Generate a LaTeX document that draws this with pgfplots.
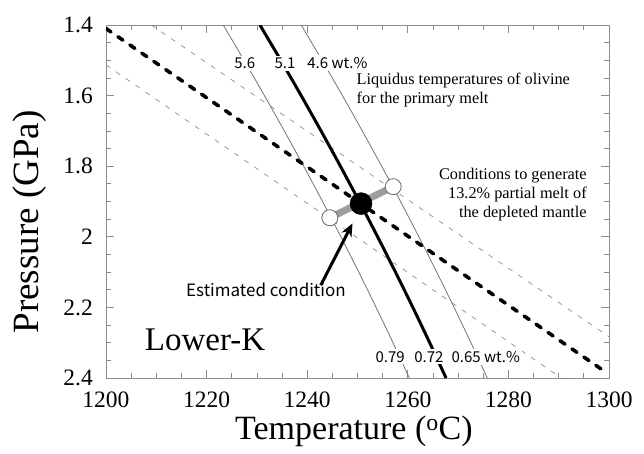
\documentclass[border=0pt]{standalone}
\usepackage{pgfplots}
\pgfplotsset{compat=1.18}
\usetikzlibrary{arrows.meta}
\usepackage{fontspec}
\setmainfont{Liberation Serif}
\newfontfamily\gothic{Noto Sans CJK JP}

\definecolor{framegray}{gray}{0.55}
\definecolor{thingray}{gray}{0.45}
\definecolor{dashgray}{gray}{0.55}
\definecolor{bargray}{gray}{0.62}

\begin{document}
\begin{tikzpicture}
\useasboundingbox (0,0) rectangle (644pt,453pt);
\begin{axis}[
  at={(106pt,75pt)}, anchor=south west,
  scale only axis, width=503pt, height=353pt,
  xmin=1200, xmax=1300, ymin=1.4, ymax=2.4,
  y dir=reverse,
  xtick={1200,1220,1240,1260,1280,1300},
  xticklabels={1200,1220,1240,1260,1280,1300},
  ytick={1.4,1.6,1.8,2.0,2.2,2.4},
  yticklabels={1.4,1.6,1.8,2,2.2,2.4},
  minor x tick num=3, minor y tick num=3,
  tick align=inside,
  major tick length=8pt, minor tick length=5pt,
  axis line style={framegray, line width=0.9pt},
  every tick/.style={framegray, line width=0.8pt},
  /pgf/number format/assume math mode=true,
  tick label style={font=\fontsize{23.5}{26}\selectfont, inner sep=0pt},
  xticklabel style={yshift=-14pt},
  yticklabel style={xshift=-13pt},
  xlabel={Temperature (\textsuperscript{o}C)},
  ylabel={Pressure (GPa)},
  label style={font=\fontsize{34}{38}\selectfont},
  xlabel style={at={(axis description cs:0.493,-0.152)}, anchor=center, inner ysep=0pt},
  ylabel style={at={(axis description cs:-0.151,0.442)}, anchor=center, font=\fontsize{37}{40}\selectfont},
  clip=true,
]
% melting-degree bounds (13.2% melt of the depleted mantle)
\addplot[dashgray, line width=0.7pt, dash pattern=on 5pt off 7pt]
  coordinates {(1209,1.4) (1300,2.283)};
\addplot[dashgray, line width=0.7pt, dash pattern=on 5pt off 7pt]
  coordinates {(1200,1.513) (1290.5,2.4)};

% olivine liquidus for 5.6 and 4.6 wt.% (thin) and 5.1 wt.% (thick)
\addplot[thingray, line width=0.8pt, smooth] coordinates {
  (1223.3,1.4) (1227.45,1.5) (1231.5,1.6) (1235.45,1.7) (1239.3,1.8)
  (1243.05,1.9) (1246.7,2.0) (1250.25,2.1) (1253.7,2.2) (1257.05,2.3) (1260.3,2.4)};
\addplot[thingray, line width=0.8pt, smooth] coordinates {
  (1238.8,1.4) (1242.95,1.5) (1247.0,1.6) (1250.95,1.7) (1254.8,1.8)
  (1258.55,1.9) (1262.2,2.0) (1265.75,2.1) (1269.2,2.2) (1272.55,2.3) (1275.8,2.4)};
\addplot[black, line width=3pt, smooth] coordinates {
  (1230.6,1.4) (1234.75,1.5) (1238.8,1.6) (1242.75,1.7) (1246.6,1.8)
  (1250.35,1.9) (1254.0,2.0) (1257.55,2.1) (1261.0,2.2) (1264.35,2.3) (1267.6,2.4)};

% 13.2% partial melt condition
\addplot[black, line width=3.6pt, line cap=round, dash pattern=on 6pt off 8.5pt]
  coordinates {(1200,1.41) (1298.8,2.378)};

% water content labels
\begin{scope}[every node/.style={fill=white, inner sep=2pt, font=\gothic\fontsize{15}{17}\selectfont}]
\node at (axis cs:1227.6,1.508) {5.6};
\node at (axis cs:1235.6,1.508) {5.1};
\node at (axis cs:1246.0,1.508) {4.6 wt.\%};
\node at (axis cs:1256.5,2.34) {0.79};
\node at (axis cs:1264.2,2.34) {0.72};
\node at (axis cs:1275.5,2.34) {0.65 wt.\%};
\end{scope}

% uncertainty range and estimated condition
\addplot[bargray, line width=7pt] coordinates {(1244.5,1.946) (1257.1,1.858)};
\addplot[only marks, mark=*, mark size=8pt, mark options={fill=white, draw=black!60, line width=0.8pt}]
  coordinates {(1244.5,1.946) (1257.1,1.858)};
\addplot[only marks, mark=*, mark size=11pt, mark options={fill=black, draw=black}]
  coordinates {(1250.7,1.906)};

\draw[black, line width=3pt, -{Stealth[length=13pt, width=11pt]}]
  (axis cs:1242.7,2.137) -- (axis cs:1249.0,1.962);

\node[font=\gothic\fontsize{17}{19}\selectfont] at (axis cs:1231.8,2.151) {Estimated condition};
\node[font=\fontsize{33}{36}\selectfont] at (axis cs:1219.7,2.292) {Lower-K};
\node[font=\fontsize{16.3}{19}\selectfont, align=left, anchor=west, inner sep=0pt]
  at (axis cs:1249.8,1.583) {Liquidus temperatures of olivine\\for the primary melt};
\node[font=\fontsize{16.3}{19}\selectfont, align=right, anchor=east, inner sep=0pt]
  at (axis cs:1295.6,1.879) {Conditions to generate\\13.2\% partial melt of\\the depleted mantle};
\end{axis}
\end{tikzpicture}
\end{document}
